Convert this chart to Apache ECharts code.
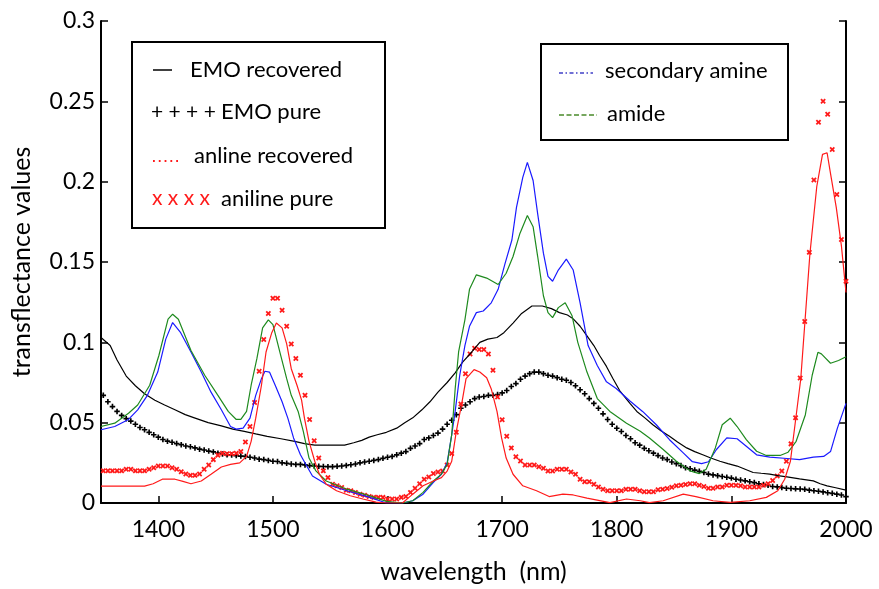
<!DOCTYPE html>
<html>
<head>
<meta charset="utf-8">
<script src="https://cdn.jsdelivr.net/npm/echarts@6/dist/echarts.min.js"></script>
<style>
  html, body { margin: 0; padding: 0; background: #fff; }
  #chart { width: 879px; height: 589px; }
</style>
</head>
<body>
<div id="chart"></div>
<script>
// tick labels
const xTicks = [1400, 1500, 1600, 1700, 1800, 1900, 2000];
const yTicks = [0, 0.05, 0.1, 0.15, 0.2, 0.25, 0.3];

// EMO recovered (black line)
const emoRecWl = [
  1350, 1358, 1364, 1372, 1380, 1388, 1397, 1405.5, 1414.5, 1423.5,
  1431.5, 1443.5, 1455, 1465, 1475, 1485, 1495, 1507, 1519, 1527.5,
  1536.5, 1548.5, 1562.5, 1570.5, 1577.5, 1584, 1591, 1599, 1608, 1615,
  1622, 1630, 1637, 1644, 1652, 1659, 1665.5, 1673.5, 1680.5, 1687.5,
  1695.5, 1701.5, 1709.5, 1717, 1726, 1735, 1743, 1750, 1757, 1762,
  1768, 1774, 1780, 1785, 1791, 1796.5, 1802.5, 1811.5, 1817.5, 1824.5,
  1831.5, 1838.5, 1846, 1853, 1861, 1868, 1875, 1882, 1890, 1897,
  1905, 1912, 1919, 1926, 1933.5, 1940.5, 1948.5, 1959.5, 1971.5, 1977.5,
  1983.5, 1991, 2000
];
const emoRec = [
  0.103, 0.098, 0.089, 0.079, 0.073, 0.068, 0.064, 0.061, 0.058, 0.055,
  0.053, 0.050, 0.048, 0.046, 0.0446, 0.043, 0.0415, 0.040, 0.0384, 0.037,
  0.036, 0.036, 0.036, 0.0375, 0.039, 0.041, 0.0425, 0.044, 0.0466, 0.050,
  0.053, 0.058, 0.063, 0.069, 0.075, 0.081, 0.0877, 0.094, 0.100, 0.102,
  0.103, 0.106, 0.112, 0.118, 0.1226, 0.1226, 0.121, 0.1185, 0.117, 0.1146,
  0.110, 0.104, 0.098, 0.0918, 0.085, 0.0776, 0.070, 0.062, 0.057, 0.053,
  0.0487, 0.045, 0.0415, 0.038, 0.0343, 0.032, 0.030, 0.028, 0.026, 0.0245,
  0.023, 0.021, 0.019, 0.0185, 0.018, 0.017, 0.0163, 0.015, 0.0138, 0.012,
  0.0107, 0.0095, 0.008
];

// EMO pure and aniline pure markers, 1352..2000 nm every 4 nm
const markerStart = 1352, markerStep = 4;
const emoPure = [
  0.067, 0.063, 0.060, 0.057, 0.0545, 0.0525, 0.051, 0.049, 0.047, 0.0456,
  0.044, 0.0425, 0.041, 0.0395, 0.0385, 0.0378, 0.037, 0.0363, 0.0355, 0.035,
  0.0343, 0.0335, 0.033, 0.0323, 0.0318, 0.031, 0.0305, 0.030, 0.0298, 0.0295,
  0.0292, 0.029, 0.0285, 0.028, 0.0273, 0.027, 0.0265, 0.026, 0.0258, 0.025,
  0.0247, 0.0243, 0.024, 0.024, 0.0237, 0.0233, 0.023, 0.0228, 0.0227, 0.0226,
  0.0226, 0.0228, 0.023, 0.0234, 0.0238, 0.0243, 0.025, 0.0255, 0.026, 0.0265,
  0.027, 0.0278, 0.0285, 0.029, 0.030, 0.031, 0.032, 0.034, 0.0355, 0.037,
  0.0395, 0.0405, 0.042, 0.0435, 0.046, 0.049, 0.0515, 0.055, 0.059, 0.061,
  0.063, 0.065, 0.066, 0.0663, 0.067, 0.067, 0.0675, 0.0685, 0.070, 0.0725,
  0.0743, 0.077, 0.079, 0.0805, 0.0815, 0.0815, 0.0805, 0.0795, 0.079, 0.078,
  0.077, 0.0764, 0.075, 0.073, 0.0705, 0.068, 0.065, 0.062, 0.059, 0.0555,
  0.052, 0.049, 0.0465, 0.0445, 0.042, 0.040, 0.0375, 0.036, 0.034, 0.0325,
  0.031, 0.0295, 0.028, 0.027, 0.0255, 0.0245, 0.0233, 0.022, 0.0213, 0.0205,
  0.0197, 0.019, 0.018, 0.0175, 0.017, 0.0165, 0.016, 0.0155, 0.0148, 0.0143,
  0.0138, 0.0132, 0.0127, 0.012, 0.0115, 0.011, 0.0103, 0.010, 0.0096, 0.0092,
  0.009, 0.0088, 0.0087, 0.0085, 0.008, 0.0076, 0.0073, 0.0069, 0.0064, 0.006,
  0.0055, 0.005, 0.004
];
const anilinePure = [
  0.020, 0.020, 0.020, 0.020, 0.020, 0.021, 0.021, 0.020, 0.020, 0.020,
  0.021, 0.022, 0.023, 0.023, 0.023, 0.022, 0.021, 0.0195, 0.018, 0.0172,
  0.0172, 0.018, 0.021, 0.0236, 0.027, 0.0298, 0.031, 0.0306, 0.0306, 0.031,
  0.032, 0.038, 0.0476, 0.0626, 0.082, 0.1017, 0.118, 0.1275, 0.1275, 0.120,
  0.110, 0.099, 0.090, 0.0795, 0.067, 0.052, 0.0388, 0.028, 0.020, 0.0158,
  0.0117, 0.0107, 0.0097, 0.008, 0.0076, 0.0066, 0.0055, 0.0048, 0.0041, 0.0035,
  0.0035, 0.0035, 0.0025, 0.0025, 0.0025, 0.0035, 0.004, 0.0066, 0.0092, 0.012,
  0.0148, 0.0162, 0.0183, 0.0193, 0.0199, 0.0236, 0.0308, 0.044, 0.0616, 0.0805,
  0.0928, 0.0963, 0.0955, 0.0955, 0.0928, 0.0826, 0.066, 0.0518, 0.0415, 0.0343,
  0.0288, 0.0261, 0.0236, 0.0236, 0.0236, 0.0226, 0.0216, 0.0199, 0.0199, 0.021,
  0.021, 0.021, 0.0193, 0.0179, 0.0148, 0.0132, 0.0132, 0.0117, 0.010, 0.0086,
  0.0076, 0.0076, 0.0076, 0.0076, 0.0086, 0.0086, 0.0086, 0.0076, 0.007, 0.007,
  0.007, 0.0082, 0.0086, 0.009, 0.0098, 0.0107, 0.011, 0.0115, 0.012, 0.012,
  0.011, 0.0103, 0.0092, 0.0092, 0.010, 0.010, 0.011, 0.011, 0.011, 0.0107,
  0.010, 0.010, 0.010, 0.010, 0.011, 0.012, 0.014, 0.0168, 0.0199, 0.026,
  0.0368, 0.053, 0.0778, 0.113, 0.156, 0.201, 0.237, 0.250, 0.242, 0.220,
  0.192, 0.164, 0.138
];

// aniline recovered (red line)
const anRecWl = [
  1350, 1388, 1395.5, 1403.5, 1414.5, 1421.5, 1428.5, 1437.5, 1446, 1455,
  1463, 1471, 1477, 1481, 1485, 1490, 1494, 1499, 1503, 1508,
  1512, 1516, 1521, 1525, 1527.5, 1531.5, 1536.5, 1540.5, 1546.5, 1555.5,
  1567.5, 1578.5, 1590, 1599, 1613, 1622, 1631, 1640, 1647, 1652,
  1656, 1660, 1665, 1668.5, 1675.5, 1680.5, 1686.5, 1690.5, 1695.5, 1699.5,
  1703.5, 1709.5, 1718, 1730, 1741, 1753, 1762, 1774, 1794, 1808.5,
  1820.5, 1828.5, 1840.5, 1858, 1869, 1884, 1899, 1916, 1930.5, 1940.5,
  1946.5, 1951.5, 1955.5, 1960.5, 1968.5, 1974.5, 1979.5, 1983.5, 1986.5, 1991.5,
  1996, 2000
];
const anRec = [
  0.0105, 0.0105, 0.012, 0.0148, 0.0148, 0.0135, 0.012, 0.0137, 0.0179, 0.0224,
  0.024, 0.025, 0.029, 0.0384, 0.0528, 0.0733, 0.094, 0.106, 0.112, 0.109,
  0.099, 0.0836, 0.0733, 0.064, 0.0528, 0.0384, 0.026, 0.0179, 0.0117, 0.0076,
  0.0045, 0.0025, 0.0005, 0, 0, 0.0055, 0.0107, 0.0137, 0.0158, 0.0199,
  0.026, 0.0446, 0.063, 0.0774, 0.083, 0.0815, 0.078, 0.071, 0.057, 0.0405,
  0.028, 0.0179, 0.0107, 0.0076, 0.004, 0.0055, 0.005, 0.003, 0.0002, 0.0025,
  0.0014, 0.0002, 0.0014, 0.0055, 0.004, 0.0014, 0.0004, 0.0014, 0.0035, 0.0076,
  0.0148, 0.026, 0.0487, 0.077, 0.155, 0.197, 0.217, 0.218, 0.205, 0.184,
  0.16, 0.131
];

// secondary amine (blue line)
const amineWl = [
  1350, 1362, 1374, 1382, 1390.5, 1399.5, 1406.5, 1412.5, 1419.5, 1428.5,
  1437.5, 1446, 1455, 1463, 1468, 1474, 1480, 1485, 1490, 1493,
  1497, 1502, 1508, 1513, 1518, 1524, 1529.5, 1534.5, 1546.5, 1564.5,
  1584.5, 1599, 1613, 1622, 1631, 1640, 1647, 1652, 1656, 1659,
  1663, 1667.5, 1671.5, 1677.5, 1683.5, 1690.5, 1696.5, 1702.5, 1708.5, 1712.5,
  1718, 1722, 1727, 1731, 1736, 1740, 1744, 1749, 1756, 1762,
  1768, 1775, 1783, 1791, 1799.5, 1811.5, 1822.5, 1834.5, 1846, 1858,
  1866, 1874, 1880, 1887, 1896, 1905, 1913, 1922, 1933.5, 1948.5,
  1959.5, 1971.5, 1980.5, 1986.5, 1992.5, 2000
];
const amine = [
  0.0456, 0.0476, 0.052, 0.058, 0.067, 0.0815, 0.102, 0.1123, 0.106, 0.094,
  0.0815, 0.069, 0.058, 0.0476, 0.046, 0.0466, 0.0528, 0.067, 0.0774, 0.082,
  0.0815, 0.0733, 0.063, 0.0528, 0.0405, 0.030, 0.023, 0.0168, 0.0117, 0.0076,
  0.0035, 0, 0, 0.0014, 0.0055, 0.0128, 0.0179, 0.025, 0.0425, 0.057,
  0.0795, 0.098, 0.110, 0.1185, 0.1195, 0.1246, 0.133, 0.149, 0.1637, 0.184,
  0.2027, 0.212, 0.2007, 0.180, 0.1555, 0.141, 0.138, 0.145, 0.1518, 0.145,
  0.1246, 0.098, 0.0856, 0.0754, 0.0713, 0.0635, 0.057, 0.0487, 0.0394, 0.0312,
  0.0257, 0.0245, 0.0257, 0.0333, 0.0405, 0.040, 0.0353, 0.030, 0.0285, 0.0277,
  0.027, 0.0285, 0.029, 0.032, 0.0466, 0.062
];

// amide (green line)
const amideWl = [
  1350, 1362, 1374, 1382, 1392.5, 1400.5, 1408.5, 1412.5, 1417.5, 1428.5,
  1440.5, 1452, 1461, 1468, 1472, 1477, 1481, 1486, 1491, 1496,
  1500, 1506, 1512, 1516, 1522, 1526.5, 1531.5, 1537.5, 1546.5, 1564.5,
  1584.5, 1599, 1613, 1622, 1631, 1640, 1647, 1652, 1656, 1659,
  1662, 1667.5, 1671.5, 1677.5, 1686.5, 1696.5, 1703.5, 1709.5, 1715.5, 1722,
  1727, 1731, 1736, 1740, 1744, 1749, 1755, 1761, 1766, 1774,
  1783, 1794, 1808.5, 1820.5, 1828.5, 1840.5, 1852, 1864, 1872, 1878,
  1886, 1892, 1899, 1905, 1913, 1922, 1930.5, 1942.5, 1949.5, 1956.5,
  1964.5, 1970.5, 1975.5, 1978.5, 1986.5, 1993.5, 2000
];
const amide = [
  0.0476, 0.0497, 0.0559, 0.061, 0.0733, 0.0918, 0.1144, 0.1175, 0.1144, 0.0949,
  0.0795, 0.067, 0.057, 0.052, 0.052, 0.057, 0.0733, 0.0898, 0.109, 0.114,
  0.111, 0.094, 0.0774, 0.067, 0.057, 0.0446, 0.028, 0.020, 0.0137, 0.0086,
  0.0045, 0.001, 0, 0.0014, 0.0066, 0.0137, 0.018, 0.024, 0.0425, 0.071,
  0.094, 0.114, 0.133, 0.142, 0.140, 0.136, 0.143, 0.1534, 0.1678, 0.179,
  0.172, 0.1534, 0.129, 0.1185, 0.1154, 0.1216, 0.1246, 0.1165, 0.100, 0.0815,
  0.065, 0.057, 0.0497, 0.0446, 0.0405, 0.0333, 0.026, 0.020, 0.0183, 0.021,
  0.0343, 0.0487, 0.0528, 0.0476, 0.0394, 0.0322, 0.0296, 0.0296, 0.0316, 0.0384,
  0.0548, 0.0795, 0.0938, 0.0928, 0.087, 0.0887, 0.091
];

function zip(xs, ys) {
  return ys.map((v, i) => [xs[i], v]);
}
function markers(vals) {
  return vals.map((v, i) => [markerStart + i * markerStep, v]);
}

const FONT = 'Lato, "Open Sans", sans-serif';
const plusPath = 'path://M3.5,0H6.5V3.5H10V6.5H6.5V10H3.5V6.5H0V3.5H3.5Z';

const chart = echarts.init(document.getElementById('chart'));
const option = {
  animation: false,
  backgroundColor: '#fff',
  grid: { left: 101, right: 33, top: 21, bottom: 80 },
  xAxis: {
    type: 'value',
    min: 1350,
    max: 2000,
    interval: 50,
    name: 'wavelength  (nm)',
    nameLocation: 'middle',
    nameGap: 56,
    nameTextStyle: { fontFamily: FONT, fontSize: 25, color: '#000' },
    axisLine: { onZero: false, lineStyle: { color: '#000', width: 2 } },
    axisTick: { inside: true, length: 7, customValues: xTicks, lineStyle: { color: '#000', width: 1.5 } },
    axisLabel: {
      customValues: xTicks, margin: 15, fontFamily: FONT, fontSize: 23, color: '#000',
      formatter: v => String(v)
    },
    splitLine: { show: false }
  },
  yAxis: [{
    type: 'value',
    min: 0,
    max: 0.3,
    interval: 0.05,
    name: 'transflectance values',
    nameLocation: 'middle',
    nameGap: 67,
    nameTextStyle: { fontFamily: FONT, fontSize: 25, color: '#000' },
    axisLine: { show: true, lineStyle: { color: '#000', width: 2 } },
    axisTick: { inside: true, length: 7, lineStyle: { color: '#000', width: 1.5 } },
    axisLabel: {
      margin: 6, fontFamily: FONT, fontSize: 23, color: '#000',
      formatter: v => String(+v.toFixed(2))
    },
    splitLine: { show: false }
  }, {
    type: 'value',
    position: 'right',
    min: 0,
    max: 0.3,
    interval: 0.05,
    axisLine: { show: true, lineStyle: { color: '#000', width: 2 } },
    axisTick: { inside: true, length: 7, lineStyle: { color: '#000', width: 1.5 } },
    axisLabel: { show: false },
    splitLine: { show: false }
  }],
  series: [
    {
      name: 'EMO recovered', type: 'line', data: zip(emoRecWl, emoRec),
      showSymbol: false, lineStyle: { color: '#000', width: 1.2 }
    },
    {
      name: 'secondary amine', type: 'line', data: zip(amineWl, amine),
      showSymbol: false, lineStyle: { color: '#1a1aff', width: 1.2 }
    },
    {
      name: 'amide', type: 'line', data: zip(amideWl, amide),
      showSymbol: false, lineStyle: { color: '#1e8a1e', width: 1.2 }
    },
    {
      name: 'anline recovered', type: 'line', data: zip(anRecWl, anRec),
      showSymbol: false, lineStyle: { color: '#ff1a1a', width: 1.2 }
    },
    {
      name: 'EMO pure', type: 'scatter', data: markers(emoPure),
      symbol: plusPath, symbolSize: 5.5, itemStyle: { color: '#000', opacity: 1 }
    },
    {
      name: 'aniline pure', type: 'scatter', data: markers(anilinePure),
      symbol: plusPath, symbolSize: 6, symbolRotate: 45, itemStyle: { color: '#ff1a1a', opacity: 1 }
    }
  ],
  graphic: [
    { type: 'rect', z: 100, shape: { x: 132, y: 42, width: 253, height: 186 },
      style: { fill: '#fff', stroke: '#000', lineWidth: 2 } },
    { type: 'line', z: 101, shape: { x1: 153, y1: 70, x2: 172, y2: 70 },
      style: { stroke: '#000', lineWidth: 1.5 } },
    { type: 'text', z: 101, x: 190, y: 70, style: { text: 'EMO recovered', font: '22px ' + FONT, fill: '#000', verticalAlign: 'middle' } },
    { type: 'text', z: 101, x: 151, y: 112, style: { text: '+ + + +', font: '21px ' + FONT, fill: '#000', verticalAlign: 'middle' } },
    { type: 'text', z: 101, x: 221, y: 112, style: { text: 'EMO pure', font: '22px ' + FONT, fill: '#000', verticalAlign: 'middle' } },
    { type: 'line', z: 101, shape: { x1: 153, y1: 161, x2: 182, y2: 161 },
      style: { stroke: '#ff1a1a', lineWidth: 1.8, lineDash: [1.8, 4] } },
    { type: 'text', z: 101, x: 194, y: 156, style: { text: 'anline recovered', font: '22px ' + FONT, fill: '#000', verticalAlign: 'middle' } },
    { type: 'text', z: 101, x: 152, y: 198, style: { text: 'x x x x', font: '21px ' + FONT, fill: '#ff1a1a', verticalAlign: 'middle' } },
    { type: 'text', z: 101, x: 221, y: 199, style: { text: 'aniline pure', font: '22px ' + FONT, fill: '#000', verticalAlign: 'middle' } },

    { type: 'rect', z: 100, shape: { x: 541, y: 44, width: 247, height: 96 },
      style: { fill: '#fff', stroke: '#000', lineWidth: 2 } },
    { type: 'line', z: 101, shape: { x1: 559, y1: 73, x2: 593, y2: 73 },
      style: { stroke: '#4040c8', lineWidth: 1.4, lineDash: [4, 2.5, 1.5, 2.5] } },
    { type: 'text', z: 101, x: 605, y: 71, style: { text: 'secondary amine', font: '22px ' + FONT, fill: '#000', verticalAlign: 'middle' } },
    { type: 'line', z: 101, shape: { x1: 559, y1: 115, x2: 597, y2: 115 },
      style: { stroke: '#4a8a2a', lineWidth: 1.4, lineDash: [5, 2.5] } },
    { type: 'text', z: 101, x: 607, y: 114, style: { text: 'amide', font: '22px ' + FONT, fill: '#000', verticalAlign: 'middle' } }
  ]
};
chart.setOption(option);
window.addEventListener('resize', () => chart.resize());
</script>
</body>
</html>
